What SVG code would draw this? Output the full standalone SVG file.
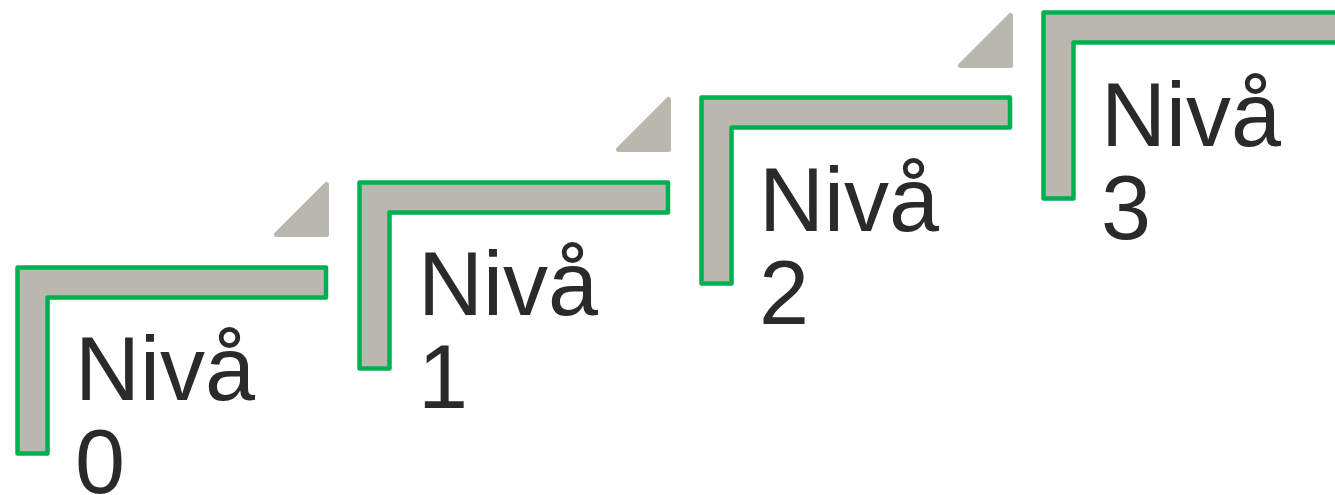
<svg xmlns="http://www.w3.org/2000/svg" width="1335" height="495" viewBox="0 0 1335 495">
  <style>
    .step { fill: #b9b8af; stroke: #00b050; stroke-width: 4.5; stroke-linejoin: round; }
    .tri { fill: #b9b8af; stroke: #b9b8af; stroke-width: 5; stroke-linejoin: round; }
    .lbl { font-family: "Liberation Sans", Arial, sans-serif; font-size: 90px; fill: #2a2a2a; }
  </style>
  <rect width="1335" height="495" fill="#ffffff"/>
  <defs>
    <path id="stepShape" d="M0,0 H308.5 V30 H30 V186 H0 Z"/>
    <polygon id="triShape" points="3.5,53.5 53.5,3.5 53.5,53.5"/>
  </defs>

  <g id="level0">
    <use href="#triShape" class="tri" x="273" y="181"/>
    <use href="#stepShape" class="step" x="17.5" y="267.5"/>
    <text class="lbl" x="75" y="400">Nivå<tspan x="75" dy="93">0</tspan></text>
  </g>

  <g id="level1">
    <use href="#triShape" class="tri" x="615" y="96"/>
    <use href="#stepShape" class="step" x="359.5" y="182.5"/>
    <text class="lbl" x="418" y="315">Nivå<tspan x="418" dy="93">1</tspan></text>
  </g>

  <g id="level2">
    <use href="#triShape" class="tri" x="957" y="12"/>
    <use href="#stepShape" class="step" x="701.5" y="97.5"/>
    <text class="lbl" x="759" y="231">Nivå<tspan x="759" dy="93">2</tspan></text>
  </g>

  <g id="level3">
    <path class="step" d="M1043.5,12.5 H1345 V42.5 H1073.5 V198.5 H1043.5 Z"/>
    <text class="lbl" x="1101" y="146">Nivå<tspan x="1101" dy="93">3</tspan></text>
  </g>
</svg>
